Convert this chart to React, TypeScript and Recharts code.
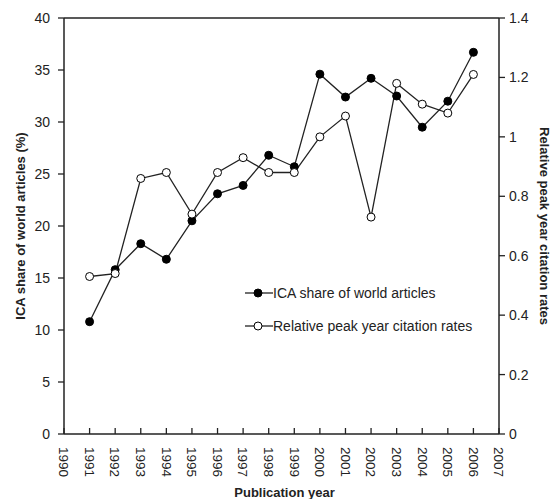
import React from "react";
import {
  LineChart,
  Line,
  XAxis,
  YAxis,
  ReferenceLine,
  Label,
} from "recharts";

const years = [1991, 1992, 1993, 1994, 1995, 1996, 1997, 1998, 1999, 2000, 2001, 2002, 2003, 2004, 2005, 2006];
const icaShare = [10.8, 15.8, 18.3, 16.8, 20.5, 23.1, 23.9, 26.8, 25.7, 34.6, 32.4, 34.2, 32.5, 29.5, 32.0, 36.7];
const relCitation = [0.53, 0.54, 0.86, 0.88, 0.74, 0.88, 0.93, 0.88, 0.88, 1.0, 1.07, 0.73, 1.18, 1.11, 1.08, 1.21];

const yearTicks = [1990, 1991, 1992, 1993, 1994, 1995, 1996, 1997, 1998, 1999, 2000, 2001, 2002, 2003, 2004, 2005, 2006, 2007];
const leftTicks = [0, 5, 10, 15, 20, 25, 30, 35, 40];
const rightTicks = [0, 0.2, 0.4, 0.6, 0.8, 1, 1.2, 1.4];
const seriesNames = ["ICA share of world articles", "Relative peak year citation rates"];

const data = years.map((year, i) => ({ year, ica: icaShare[i], rel: relCitation[i] }));

const FONT = "'Liberation Sans', Arial, sans-serif";
const INK = "#222";

const YearTick = (props: any) => {
  const { x, y, payload } = props;
  return (
    <g>
      <line x1={x} y1={y} x2={x} y2={y - 6} stroke={INK} strokeWidth={1.3} />
      <text
        x={0}
        y={0}
        dy="0.35em"
        transform={`translate(${x},${y + 13}) rotate(90)`}
        textAnchor="start"
        fontSize={13.5}
        fill={INK}
        fontFamily={FONT}
      >
        {payload.value}
      </text>
    </g>
  );
};

const LegendBox = () => {
  const items = [
    { label: seriesNames[0], filled: true },
    { label: seriesNames[1], filled: false },
  ];
  return (
    <div
      style={{
        position: "absolute",
        left: 245,
        top: 276,
        fontFamily: FONT,
        fontSize: 14,
        color: INK,
        whiteSpace: "nowrap",
      }}
    >
      {items.map((it) => (
        <div key={it.label} style={{ display: "flex", alignItems: "center", height: 33 }}>
          <svg width={28} height={12} style={{ display: "block" }}>
            <line x1={0} y1={6} x2={28} y2={6} stroke={INK} strokeWidth={1.3} />
            <circle cx={13} cy={6} r={4} fill={it.filled ? "#000" : "#fff"} stroke="#000" strokeWidth={1} />
          </svg>
          <span style={{ marginLeft: 0 }}>{it.label}</span>
        </div>
      ))}
    </div>
  );
};

export default function App() {
  return (
    <div style={{ position: "absolute", left: 0, top: 0, width: 551, height: 499, background: "#fff" }}>
      <LineChart width={551} height={499} data={data} margin={{ top: 18, right: 0, bottom: 0, left: 0 }}>
        <XAxis
          dataKey="year"
          type="number"
          domain={[1990, 2007]}
          ticks={yearTicks}
          interval={0}
          height={65}
          tickSize={0}
          tickMargin={0}
          tick={<YearTick />}
          axisLine={{ stroke: INK, strokeWidth: 1.5 }}
          tickLine={false}
        >
          <Label
            value="Publication year"
            position="insideBottom"
            offset={2}
            dx={3}
            style={{ fontFamily: FONT, fontSize: 13, fontWeight: "bold", fill: INK }}
          />
        </XAxis>
        <YAxis
          yAxisId="left"
          domain={[0, 40]}
          ticks={leftTicks}
          width={64}
          tickSize={6}
          tickMargin={8}
          axisLine={{ stroke: INK, strokeWidth: 1.5 }}
          tickLine={{ stroke: INK, strokeWidth: 1.3 }}
          tick={{ fontSize: 14, fill: INK, fontFamily: FONT }}
        >
          <Label
            value="ICA share of world articles (%)"
            position="center"
            angle={-90}
            dx={-12}
            style={{ fontFamily: FONT, fontSize: 13, fontWeight: "bold", fill: INK, textAnchor: "middle" }}
          />
        </YAxis>
        <YAxis
          yAxisId="right"
          orientation="right"
          domain={[0, 1.4]}
          ticks={rightTicks}
          width={52}
          tickSize={6}
          tickMargin={4}
          axisLine={{ stroke: INK, strokeWidth: 1.5 }}
          tickLine={{ stroke: INK, strokeWidth: 1.3 }}
          tick={{ fontSize: 14, fill: INK, fontFamily: FONT }}
        >
          <Label
            value="Relative peak year citation rates"
            position="center"
            angle={90}
            dx={20}
            style={{ fontFamily: FONT, fontSize: 13, fontWeight: "bold", fill: INK, textAnchor: "middle" }}
          />
        </YAxis>
        <ReferenceLine yAxisId="left" y={40} stroke={INK} strokeWidth={1.5} />
        <Line
          yAxisId="left"
          dataKey="ica"
          name={seriesNames[0]}
          stroke={INK}
          strokeWidth={1.3}
          dot={{ r: 4, fill: "#000", stroke: "#000", strokeWidth: 1 }}
          isAnimationActive={false}
        />
        <Line
          yAxisId="right"
          dataKey="rel"
          name={seriesNames[1]}
          stroke={INK}
          strokeWidth={1.3}
          dot={{ r: 4, fill: "#fff", stroke: "#000", strokeWidth: 1 }}
          isAnimationActive={false}
        />
      </LineChart>
      <LegendBox />
    </div>
  );
}
